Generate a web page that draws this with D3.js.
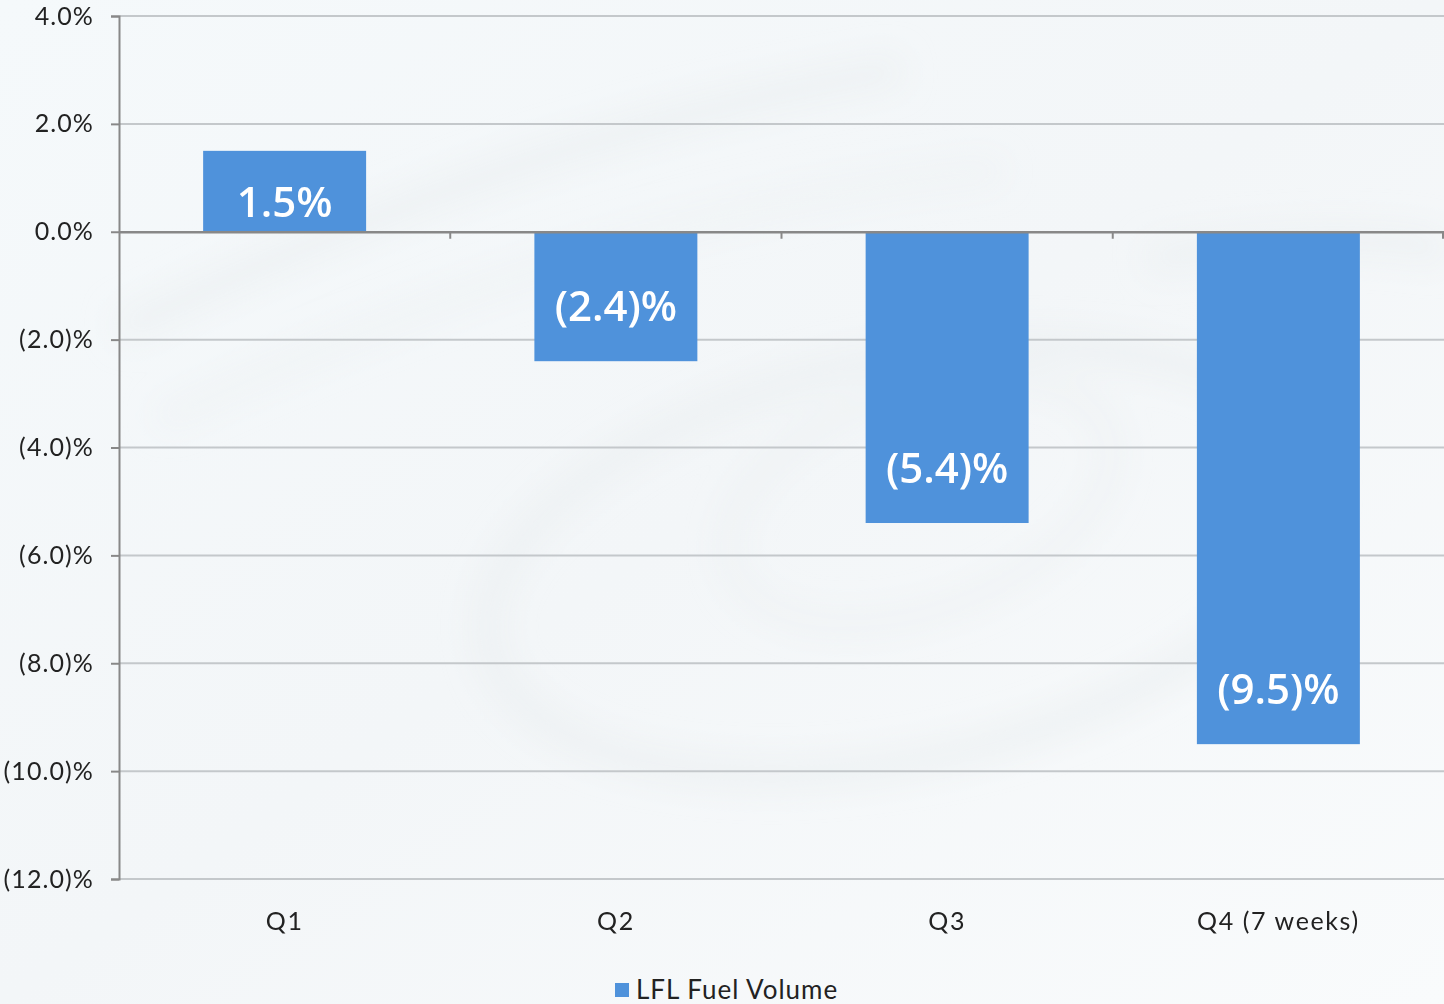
<!DOCTYPE html>
<html>
<head>
<meta charset="utf-8">
<script src="https://cdn.jsdelivr.net/npm/d3@7"></script>
<style>
  html, body { margin: 0; padding: 0; background: #fff; }
  svg { display: block; }
</style>
</head>
<body>
<svg id="chart" width="1444" height="1004"></svg>
<script>
// Like-for-like fuel volume by quarter (%)
const categories = ["Q1", "Q2", "Q3", "Q4 (7 weeks)"];
const values = [1.5, -2.4, -5.4, -9.5];
const valueLabels = ["1.5%", "(2.4)%", "(5.4)%", "(9.5)%"];
const yTicks = [4, 2, 0, -2, -4, -6, -8, -10, -12];
const yTickLabels = ["4.0%", "2.0%", "0.0%", "(2.0)%", "(4.0)%", "(6.0)%", "(8.0)%", "(10.0)%", "(12.0)%"];
const seriesName = "LFL Fuel Volume";

const W = 1444, H = 1004;
const plot = { left: 119, right: 1444, top: 16, bottom: 879 };
const barColor = "#4f92db";
const axisFont = "Lato, 'Open Sans', sans-serif";

const svg = d3.select("#chart");

// soft backdrop
const defs = svg.append("defs");
const bg = defs.append("linearGradient").attr("id", "bg")
  .attr("x1", "0").attr("y1", "0").attr("x2", "1").attr("y2", "1");
bg.append("stop").attr("offset", "0").attr("stop-color", "#f5f9fb");
bg.append("stop").attr("offset", "0.5").attr("stop-color", "#f3f6f8");
bg.append("stop").attr("offset", "1").attr("stop-color", "#f9fbfc");
defs.append("filter").attr("id", "soft").append("feGaussianBlur").attr("stdDeviation", 16);

svg.append("rect").attr("width", W).attr("height", H).attr("fill", "url(#bg)");
const swirl = svg.append("g").attr("filter", "url(#soft)").attr("fill", "none");
swirl.append("ellipse").attr("cx", 900).attr("cy", 560).attr("rx", 420).attr("ry", 200)
  .attr("transform", "rotate(-12 900 560)").attr("stroke", "#ecf0f2").attr("stroke-width", 24);
swirl.append("ellipse").attr("cx", 920).attr("cy", 500).attr("rx", 200).attr("ry", 110)
  .attr("transform", "rotate(-20 920 500)").attr("stroke", "#edf1f3").attr("stroke-width", 14);
swirl.append("path").attr("d", "M120,330 C350,220 600,120 900,70")
  .attr("stroke", "#edf1f3").attr("stroke-width", 28);
swirl.append("path").attr("d", "M160,420 C420,300 700,200 1000,170")
  .attr("stroke", "#eff3f5").attr("stroke-width", 20);
swirl.append("path").attr("d", "M1150,260 C1300,230 1400,240 1444,250")
  .attr("stroke", "#edf1f3").attr("stroke-width", 28);

const x = d3.scaleBand().domain(categories).range([plot.left, plot.right]).padding(0);
const y = d3.scaleLinear().domain([-12, 4]).range([plot.bottom, plot.top]);
const barW = x.bandwidth() * 0.492;

// horizontal gridlines
svg.append("g").selectAll("line").data(yTicks.filter(t => t !== 0)).join("line")
  .attr("x1", plot.left).attr("x2", plot.right)
  .attr("y1", d => y(d)).attr("y2", d => y(d))
  .attr("stroke", "#c4c8cb").attr("stroke-width", 2);

// bars
svg.append("g").selectAll("rect").data(values).join("rect")
  .attr("x", (d, i) => x(categories[i]) + (x.bandwidth() - barW) / 2)
  .attr("width", barW)
  .attr("y", d => y(Math.max(0, d)))
  .attr("height", d => Math.abs(y(d) - y(0)))
  .attr("fill", barColor);

// value labels inside the bar ends
svg.append("g").selectAll("text").data(values).join("text")
  .attr("x", (d, i) => x(categories[i]) + x.bandwidth() / 2)
  .attr("y", d => d >= 0 ? y(d) + 66 : y(d) - 40)
  .attr("text-anchor", "middle")
  .attr("fill", "#ffffff")
  .attr("font-family", "'Open Sans', sans-serif")
  .attr("font-weight", 600)
  .attr("font-size", 42)
  .text((d, i) => valueLabels[i]);

// y axis
const yAxis = d3.axisLeft(y).tickValues(yTicks).tickSize(8).tickPadding(17)
  .tickFormat((d, i) => yTickLabels[i]);
const gy = svg.append("g").attr("transform", `translate(${plot.left},0)`).call(yAxis);
gy.select(".domain").attr("stroke", "#888").attr("stroke-width", 2);
gy.selectAll(".tick line").attr("stroke", "#888").attr("stroke-width", 2);
gy.selectAll(".tick text").attr("fill", "#222").attr("font-family", axisFont)
  .attr("font-size", 25).attr("letter-spacing", 1.1);

// x axis along zero
const xAxis = d3.axisBottom(x).tickSize(0).tickFormat(() => "");
const gx = svg.append("g").attr("transform", `translate(0,${y(0)})`).call(xAxis);
gx.select(".domain").attr("stroke", "#888").attr("stroke-width", 2.5);
gx.selectAll(".tick").remove();
gx.selectAll("line.sep").data(categories.slice(1).concat(["end"])).join("line")
  .attr("class", "sep")
  .attr("x1", (d, i) => plot.left + x.step() * (i + 1) - (i === categories.length - 1 ? 1 : 0))
  .attr("x2", (d, i) => plot.left + x.step() * (i + 1) - (i === categories.length - 1 ? 1 : 0))
  .attr("y1", 0).attr("y2", 7)
  .attr("stroke", "#888").attr("stroke-width", 2);

// category labels below plot
svg.append("g").selectAll("text").data(categories).join("text")
  .attr("x", d => x(d) + x.bandwidth() / 2)
  .attr("y", plot.bottom + 51)
  .attr("text-anchor", "middle")
  .attr("fill", "#222")
  .attr("font-family", axisFont)
  .attr("font-size", 25)
  .attr("letter-spacing", 1.6)
  .text(d => d);

// legend
const lg = svg.append("g").attr("transform", "translate(615,983)");
lg.append("rect").attr("width", 14).attr("height", 14).attr("fill", barColor);
lg.append("text").attr("x", 21).attr("y", 16)
  .attr("fill", "#222").attr("font-family", axisFont).attr("font-size", 26)
  .attr("letter-spacing", 1)
  .text(seriesName);
</script>
</body>
</html>
